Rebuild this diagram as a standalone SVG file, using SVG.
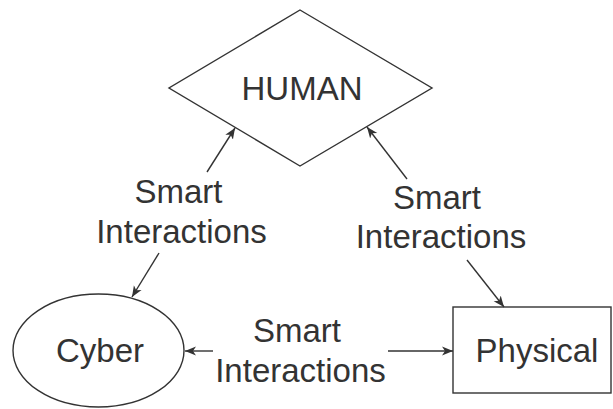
<svg xmlns="http://www.w3.org/2000/svg" width="613" height="409" viewBox="0 0 613 409">
<style>
.shape{fill:#ffffff;stroke:#333333;stroke-width:1.4}
.lbl{font-family:"Liberation Sans",Arial,sans-serif;font-size:33px;fill:#333333;text-anchor:middle}
.edge{fill:none;stroke:#333333;stroke-width:1.4}
</style>
<defs>
<marker id="ah" markerUnits="userSpaceOnUse" markerWidth="12" markerHeight="10" refX="11" refY="5" orient="auto">
<path d="M0,0.5 L11,5 L0,9.5 L3,5 Z" fill="#333333"/>
</marker>
</defs>
<rect width="613" height="409" fill="#ffffff"/>
<g id="human">
<polygon class="shape" points="300,10 432,88 300,166 169,88"/>
<text class="lbl" x="302" y="100">HUMAN</text>
</g>
<g id="cyber">
<ellipse class="shape" cx="98.5" cy="350.5" rx="85.5" ry="56.5"/>
<text class="lbl" x="100" y="362">Cyber</text>
</g>
<g id="physical">
<rect class="shape" x="453" y="307" width="158" height="86"/>
<text class="lbl" x="537" y="362">Physical</text>
</g>
<g id="connectors">
<line class="edge" x1="207" y1="172" x2="235" y2="128" marker-end="url(#ah)"/>
<line class="edge" x1="159" y1="253" x2="132" y2="297" marker-end="url(#ah)"/>
<line class="edge" x1="407" y1="179" x2="367" y2="127" marker-end="url(#ah)"/>
<line class="edge" x1="467" y1="260" x2="504" y2="307" marker-end="url(#ah)"/>
<line class="edge" x1="213" y1="351" x2="185" y2="351" marker-end="url(#ah)"/>
<line class="edge" x1="388" y1="351" x2="453" y2="351" marker-end="url(#ah)"/>
<text class="lbl" x="178.5" y="203">Smart</text>
<text class="lbl" x="181.5" y="243">Interactions</text>
<text class="lbl" x="437" y="209">Smart</text>
<text class="lbl" x="441" y="248">Interactions</text>
<text class="lbl" x="297" y="342">Smart</text>
<text class="lbl" x="300.5" y="382">Interactions</text>
</g>
</svg>
